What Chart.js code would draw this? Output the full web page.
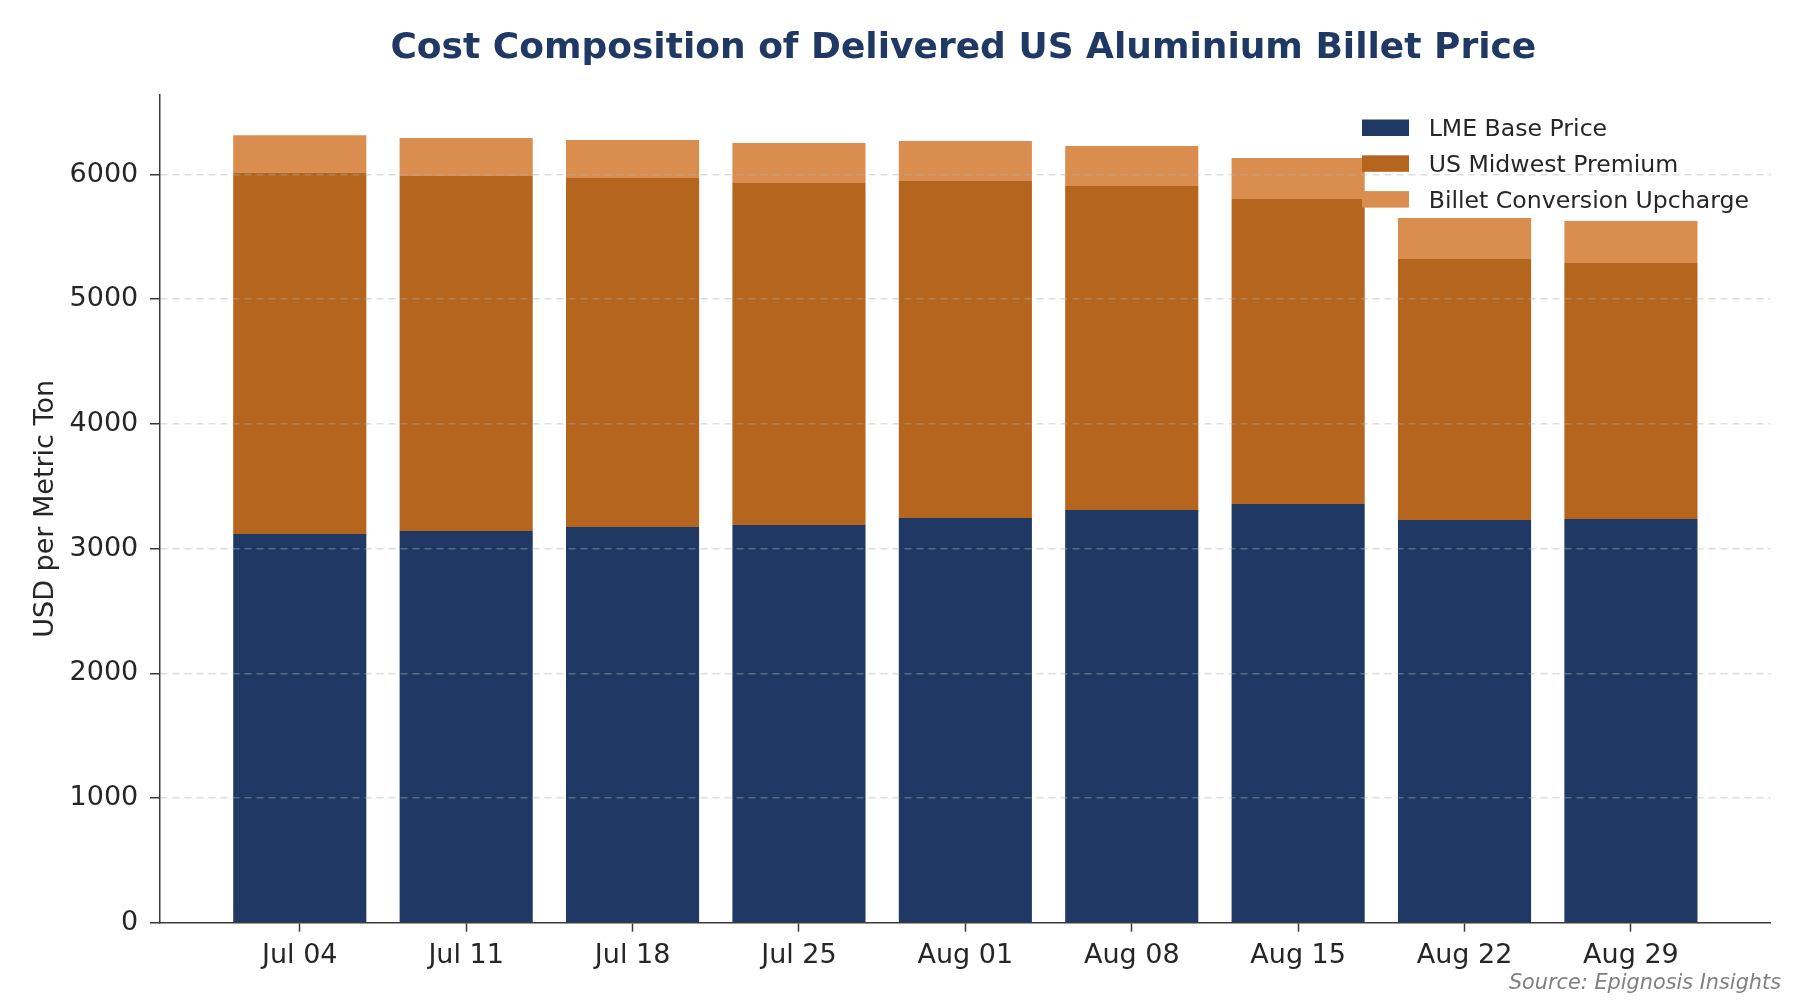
<!DOCTYPE html>
<html>
<head>
<meta charset="utf-8">
<script src="https://cdn.jsdelivr.net/npm/chart.js@4.4.0/dist/chart.umd.min.js"></script>
<style>
html,body{margin:0;padding:0;background:#ffffff;}
#wrap{width:1800px;height:1000px;position:relative;}
</style>
</head>
<body>
<div id="wrap"><canvas id="c" width="1800" height="1000"></canvas></div>
<script>
// ---- data ----
const categories = ['Jul 04','Jul 11','Jul 18','Jul 25','Aug 01','Aug 08','Aug 15','Aug 22','Aug 29'];
const lmeBase = [3117, 3141, 3174, 3189, 3245, 3309, 3357, 3229, 3237];
const midwestPremium = [2897, 2847, 2798, 2743, 2703, 2599, 2447, 2094, 2054];
const billetUpcharge = [301, 305, 305, 321, 321, 321, 329, 329, 337];
const yTickValues = [0, 1000, 2000, 3000, 4000, 5000, 6000];
const seriesNames = ['LME Base Price', 'US Midwest Premium', 'Billet Conversion Upcharge'];
const chartTitle = 'Cost Composition of Delivered US Aluminium Billet Price';
const yAxisTitle = 'USD per Metric Ton';
const sourceNote = 'Source: Epignosis Insights';

const toPoints = arr => arr.map((v, i) => ({x: i, y: v}));
const TEXT = '#262626';
const AXIS = '#3a3a3a';

const overlayText = {
  id: 'overlayText',
  afterDraw(chart) {
    const ctx = chart.ctx;
    const ca = chart.chartArea;
    ctx.save();
    // title
    ctx.fillStyle = '#1f3864';
    ctx.font = 'bold 36px "DejaVu Sans"';
    ctx.textAlign = 'center';
    ctx.textBaseline = 'alphabetic';
    ctx.fillText(chartTitle, (ca.left + ca.right) / 2 - 2, 58.3);
    // source
    ctx.fillStyle = '#808080';
    ctx.font = 'italic 20.8px "DejaVu Sans"';
    ctx.textAlign = 'right';
    ctx.fillText(sourceNote, 1781, 989);
    // legend
    ctx.font = '23.6px "DejaVu Sans"';
    ctx.textAlign = 'left';
    chart.data.datasets.forEach((ds, i) => {
      const top = 119.5 + i * 35.8;
      ctx.fillStyle = ds.backgroundColor;
      ctx.fillRect(1362, top, 47, 16.5);
      ctx.fillStyle = TEXT;
      ctx.fillText(ds.label, 1428.7, top + 16.5);
    });
    ctx.restore();
  }
};

new Chart(document.getElementById('c'), {
  type: 'bar',
  data: {
    datasets: [
      {label: seriesNames[0], data: toPoints(lmeBase), backgroundColor: '#1f3864'},
      {label: seriesNames[1], data: toPoints(midwestPremium), backgroundColor: '#b5651d'},
      {label: seriesNames[2], data: toPoints(billetUpcharge), backgroundColor: '#d98e4f'}
    ]
  },
  options: {
    responsive: false,
    animation: false,
    devicePixelRatio: 1,
    layout: {padding: {top: 95, right: 29.3, left: 0, bottom: 0}},
    categoryPercentage: 1,
    barPercentage: 0.8,
    plugins: {
      legend: {display: false},
      title: {display: false},
      tooltip: {enabled: false}
    },
    scales: {
      x: {
        type: 'linear',
        stacked: true,
        offset: false,
        min: -0.84,
        max: 8.84,
        afterBuildTicks: s => { s.ticks = categories.map((_, i) => ({value: i})); },
        afterFit: s => { s.height = 77.3; },
        ticks: {
          autoSkip: false,
          maxRotation: 0,
          padding: 8.5,
          color: TEXT,
          font: {family: 'DejaVu Sans', size: 27},
          callback: v => categories[v]
        },
        grid: {
          display: true,
          offset: false,
          drawOnChartArea: false,
          drawTicks: true,
          tickLength: 9,
          tickColor: AXIS,
          tickWidth: 1.5
        },
        border: {display: true, color: AXIS, width: 1.5}
      },
      y: {
        stacked: true,
        min: 0,
        max: 6638,
        afterBuildTicks: s => { s.ticks = yTickValues.map(v => ({value: v})); },
        afterFit: s => { s.width = 160; },
        ticks: {
          padding: 11.7,
          color: TEXT,
          font: {family: 'DejaVu Sans', size: 27},
          callback: v => String(v)
        },
        title: {
          display: true,
          text: yAxisTitle,
          color: TEXT,
          font: {family: 'DejaVu Sans', size: 27},
          padding: {top: 29.5, bottom: 0}
        },
        grid: {
          display: true,
          z: 1,
          drawOnChartArea: true,
          color: c => (c.tick && c.tick.value === 0) ? 'rgba(0,0,0,0)' : 'rgba(176,176,176,0.42)',
          lineWidth: 1.5,
          borderDash: [7, 5],
          tickLength: 10,
          tickColor: AXIS,
          tickWidth: 1.5,
          tickBorderDash: []
        },
        border: {display: true, color: AXIS, width: 1.5, dash: [7, 5], z: 2}
      }
    }
  },
  plugins: [overlayText]
});
</script>
</body>
</html>
